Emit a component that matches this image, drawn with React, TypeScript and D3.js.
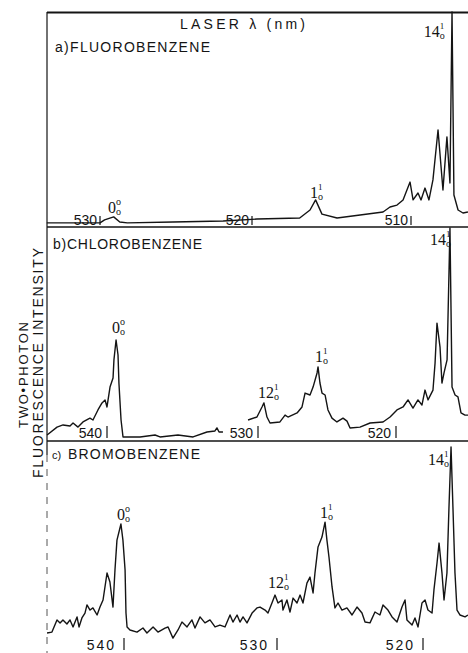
import React from 'react'
import * as d3 from 'd3'

// laser wavelength (nm) and relative two-photon fluorescence intensity (0-100 per panel)
const fluoroWl = [533.5, 530.0, 529.7, 529.1, 528.7, 528.2, 525.2, 521.9, 519.69, 517.0, 516.35, 516.0, 515.6, 514.65,
  513.2, 511.76, 511.32, 510.88, 510.5, 510.06, 509.87, 509.56, 509.37, 509.12, 508.87, 508.62, 508.3, 507.99,
  507.74, 507.55, 507.42, 507.3, 507.04, 506.73, 506.42]
const fluoroInt = [1.9, 1.9, 3.3, 4.7, 2.3, 1.9, 2.3, 2.8, 3.7, 4.2, 7.9, 12.6, 6.0, 4.2,
  5.6, 7.0, 9.3, 10.2, 12.6, 20.9, 12.6, 15.8, 12.6, 18.1, 12.6, 21.9, 45.1, 17.2,
  41.9, 20.5, 100, 14.9, 7.9, 6.5, 7.0]
const fluoroTicks = [530, 520, 510]

const chloroWl = [543.97, 543.31, 542.91, 542.45, 542.25, 541.92, 541.59, 541.13, 540.93, 540.6,
  540.33, 540.13, 540.0, 539.8, 539.6, 539.54, 539.4, 539.27, 539.21, 539.07,
  538.94, 537.81, 536.82, 536.49, 535.3, 534.3, 533.38, 532.85, 532.72, 532.58, 532.32,
  531.5,
  530.66, 530.07, 529.71, 529.57, 529.35, 529.13, 528.41, 528.04, 527.83, 527.17,
  526.81, 526.59, 526.23, 526.01, 525.72, 525.65, 525.51, 525.36, 525.14, 524.93,
  524.64, 524.28, 523.84, 523.55, 523.33, 522.61, 521.88, 520.94, 520.43, 519.93,
  519.49, 519.13, 518.77, 518.41, 518.12, 517.9, 517.68, 517.32, 517.17, 517.03,
  516.81, 516.67, 516.52, 516.3, 516.09, 515.94, 515.72, 515.51, 515.29, 515.0, 514.78]
const chloroInt = [2.8, 6.5, 7.5, 7.0, 8.4, 6.5, 8.9, 10.7, 9.8, 14.5,
  17.8, 19.2, 15.9, 25.2, 29.4, 37.9, 47.2, 40.2, 27.1, 9.8,
  1.9, 1.9, 2.8, 1.9, 2.8, 1.9, 4.2, 4.7, 6.1, 4.2, 4.2,
  NaN,
  9.8, 11.2, 15.9, 17.8, 11.2, 8.4, 8.9, 12.1, 11.2, 13.1,
  15.9, 22.4, 21.5, 25.2, 31.8, 34.6, 27.1, 22.4, 21.5, 14.5,
  10.7, 8.9, 10.7, 9.3, 6.1, 6.5, 8.4, 8.9, 11.2, 14.5,
  15.9, 19.2, 15.4, 19.2, 16.8, 23.8, 19.2, 23.8, 36.4, 55.1,
  43.9, 27.1, 31.8, 37.9, 99.5, 25.2, 21.5, 20.6, 13.1, 12.1, 12.1]
const chloroTicks = [540, 530, 520]

const bromoWl = [545.03, 544.71, 544.38, 544.18, 543.99, 543.73, 543.53, 543.33, 543.07, 542.94,
  542.75, 542.55, 542.42, 542.22, 542.03, 541.76, 541.57, 541.37, 541.11, 540.92,
  540.72, 540.59, 540.46, 540.2, 540.07, 539.93, 539.87, 539.8, 539.61, 539.15,
  538.76, 538.5, 538.1, 537.78, 537.32, 537.12, 536.8, 536.47, 536.21, 535.88,
  535.56, 535.36, 535.03, 534.71, 534.38, 534.05, 533.73, 533.4, 533.07, 532.88,
  532.61, 532.42, 532.22, 531.96, 531.63, 531.31, 531.11, 530.78, 530.59, 530.33,
  530.13, 529.93, 529.66, 529.59, 529.32, 529.11, 528.9, 528.63, 528.42, 528.22,
  527.95, 527.74, 527.53, 527.4, 527.19, 526.92, 526.71, 526.58, 526.44, 526.37,
  526.23, 526.03, 525.82, 525.55, 525.21, 524.86, 524.52, 524.18, 523.97, 523.63,
  523.29, 522.95, 522.74, 522.4, 522.12, 521.78, 521.44, 521.23, 521.1, 520.75,
  520.55, 520.34, 520.07, 519.86, 519.66, 519.38, 519.25, 519.04, 518.9, 518.7,
  518.56, 518.36, 518.22, 518.08, 517.95, 517.81, 517.67, 517.47, 517.12, 516.92]
const bromoInt = [10.3, 10.7, 16.4, 15.0, 16.4, 14.5, 16.4, 13.1, 17.8, 13.1,
  17.3, 19.6, 23.4, 21.0, 22.0, 18.7, 22.4, 25.7, 38.3, 34.1,
  22.4, 39.7, 53.7, 61.2, 53.7, 39.7, 19.6, 13.1, 11.7, 10.7,
  12.6, 10.3, 13.1, 10.7, 12.6, 13.1, 7.9, 11.7, 15.4, 13.1,
  16.4, 12.6, 17.8, 15.0, 16.4, 13.1, 14.0, 13.1, 18.7, 15.4,
  18.7, 15.4, 17.8, 15.0, 19.6, 22.0, 22.4, 21.0, 19.6, 24.3,
  28.0, 24.3, 25.7, 21.0, 25.7, 20.1, 26.6, 24.3, 28.0, 24.3,
  33.6, 36.4, 29.0, 38.3, 50.5, 55.1, 62.1, 53.7, 45.8, 41.1,
  31.8, 22.0, 24.3, 21.0, 22.0, 18.7, 22.4, 19.6, 15.4, 15.0,
  20.1, 18.7, 23.4, 21.0, 17.8, 15.4, 22.4, 25.7, 16.4, 14.0,
  17.3, 13.1, 24.3, 25.7, 21.0, 19.6, 30.4, 43.0, 52.3, 38.3,
  25.7, 38.3, 69.2, 97.2, 69.2, 38.3, 21.0, 18.7, 17.8, 18.7]
const bromoTicks = [540, 530, 520]

// band assignments: label, superscript, and where the label sits (wl, intensity)
const fluoroPeaks = [
  { main: '0', sup: 'o', wl: 529.47, i: 6.5 },
  { main: '1', sup: '1', wl: 516.35, i: 13.5 },
  { main: '14', sup: '1', wl: 509.2, i: 88.4 },
]
const chloroPeaks = [
  { main: '0', sup: 'o', wl: 539.67, i: 50.5 },
  { main: '12', sup: '1', wl: 530.0, i: 20.1 },
  { main: '1', sup: '1', wl: 525.87, i: 36.9 },
  { main: '14', sup: '1', wl: 517.54, i: 91.6 },
]
const bromoPeaks = [
  { main: '0', sup: 'o', wl: 540.46, i: 63.1 },
  { main: '12', sup: '1', wl: 530.59, i: 31.3 },
  { main: '1', sup: '1', wl: 527.05, i: 64.0 },
  { main: '14', sup: '1', wl: 519.66, i: 88.8 },
]

const LEFT = 47
const RIGHT = 468
const sans = '"Liberation Sans", Arial, sans-serif'
const serif = '"Liberation Serif", "Times New Roman", serif'
const ink = '#141414'

const panels = [
  { key: 'a', wl: fluoroWl, vals: fluoroInt, ticks: fluoroTicks, peaks: fluoroPeaks,
    top: 12, bottom: 227, cal: [100, 252, 411], tickBase: 225, tickH: 9, tickDx: -3, tickSpacing: 0 },
  { key: 'b', wl: chloroWl, vals: chloroInt, ticks: chloroTicks, peaks: chloroPeaks,
    top: 227, bottom: 441, cal: [107, 258, 396], tickBase: 438, tickH: 12, tickDx: -5, tickSpacing: 0 },
  { key: 'c', wl: bromoWl, vals: bromoInt, ticks: bromoTicks, peaks: bromoPeaks,
    top: 441, bottom: 655, cal: [124, 277, 423], tickBase: 650, tickH: 12, tickDx: -8, tickSpacing: 2 },
]

function Panel({ p }: { p: typeof panels[number] }) {
  const x = d3.scaleLinear().domain(p.ticks).range(p.cal)
  const y = d3.scaleLinear().domain([0, 100]).range([p.bottom, p.top])
  const idx = d3.range(p.wl.length)
  const line = d3.line<number>()
    .defined(i => !isNaN(p.vals[i]))
    .x(i => x(p.wl[i]))
    .y(i => y(p.vals[i]))
  return (
    <g>
      <path d={line(idx) || ''} fill="none" stroke={ink} strokeWidth={1.4} strokeLinejoin="round" />
      {p.ticks.map(t => (
        <g key={t}>
          <line x1={x(t)} x2={x(t)} y1={p.tickBase - p.tickH} y2={p.tickBase} stroke={ink} strokeWidth={1.2} />
          <text x={x(t) + p.tickDx} y={p.tickBase} textAnchor="end" fontFamily={sans} fontSize={14}
            letterSpacing={p.tickSpacing} fill={ink}>{t}</text>
        </g>
      ))}
      {p.peaks.map(pk => {
        const px = x(pk.wl)
        const py = y(pk.i)
        const w = pk.main.length * 8
        return (
          <g key={pk.main} fill={ink}>
            <text x={px} y={py} fontFamily={serif} fontSize={16}>{pk.main}</text>
            <text x={px + w} y={py - 8} fontFamily={serif} fontSize={pk.sup === 'o' ? 10 : 9}>{pk.sup}</text>
            <text x={px + w} y={py + 2} fontFamily={serif} fontSize={10}>o</text>
          </g>
        )
      })}
    </g>
  )
}

export default function App() {
  return (
    <svg width={468} height={653} style={{ position: 'absolute', left: 0, top: 0, background: '#fff' }}>
      {/* frame */}
      <line x1={LEFT} x2={RIGHT} y1={12.5} y2={12.5} stroke={ink} strokeWidth={2} />
      <line x1={LEFT} x2={RIGHT} y1={227} y2={227} stroke={ink} strokeWidth={1.6} />
      <line x1={LEFT} x2={RIGHT} y1={441} y2={441} stroke={ink} strokeWidth={1.6} />
      <line x1={LEFT} x2={LEFT} y1={12} y2={455} stroke={ink} strokeWidth={1.2} />
      <line x1={LEFT} x2={LEFT} y1={455} y2={653} stroke="#555" strokeWidth={1} strokeDasharray="7 7" />

      {panels.map(p => <Panel key={p.key} p={p} />)}

      {/* titles */}
      <text x={180} y={29} fontFamily={sans} fontSize={14} textLength={125} lengthAdjust="spacing" fill={ink}>LASER  λ (nm)</text>
      <text x={55} y={52} fontFamily={sans} fontSize={14} textLength={155} lengthAdjust="spacing" fill={ink}>a)FLUOROBENZENE</text>
      <text x={53} y={249} fontFamily={sans} fontSize={14} textLength={149} lengthAdjust="spacing" fill={ink}>b)CHLOROBENZENE</text>
      <text x={52} y={459} fontFamily={sans} fontSize={11} fill={ink}>c)</text>
      <text x={68} y={459} fontFamily={sans} fontSize={14} textLength={132} lengthAdjust="spacing" fill={ink}>BROMOBENZENE</text>

      {/* y axis label */}
      <text transform="translate(28,375) rotate(-90)" textAnchor="middle" fontFamily={sans} fontSize={13}
        textLength={106} lengthAdjust="spacing" fill={ink}>TWO•PHOTON</text>
      <text transform="translate(43,363) rotate(-90)" textAnchor="middle" fontFamily={sans} fontSize={14}
        textLength={230} lengthAdjust="spacing" fill={ink}>FLUORESCENCE   INTENSITY</text>
    </svg>
  )
}
